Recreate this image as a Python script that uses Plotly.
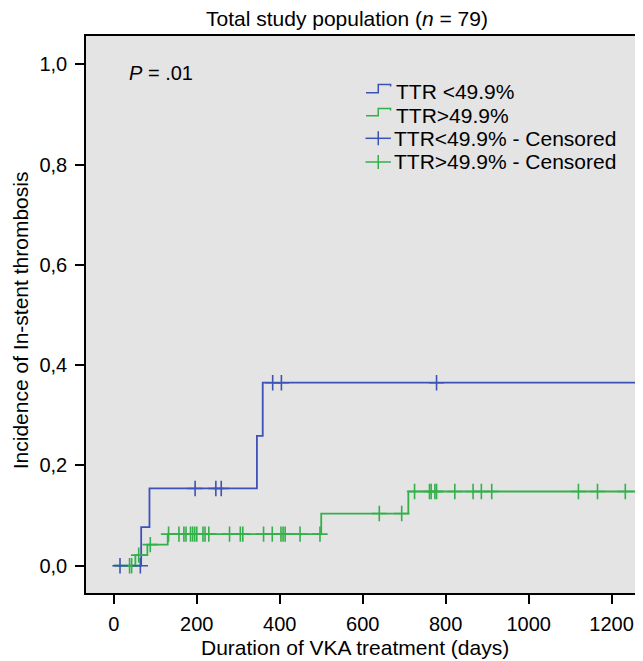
import plotly.graph_objects as go

# ---- data ----
blue_step_days = [0, 66, 86, 345, 359]
blue_step_inc = [0.0, 0.077, 0.154, 0.259, 0.365]
blue_censor_days = [15, 64, 196, 246, 259, 383, 404, 778]
blue_censor_inc = [0.0, 0.0, 0.154, 0.154, 0.154, 0.365, 0.365, 0.365]

green_step_days = [0, 52, 81, 130, 500, 710]
green_step_inc = [0.0, 0.021, 0.042, 0.063, 0.104, 0.148]
green_censor_days = [38, 43, 60, 88,
                     132, 157, 169, 174, 185, 190, 195, 200, 215, 220, 229,
                     279, 305, 311, 361, 382, 403, 408, 413, 449, 497,
                     640, 694,
                     725, 761, 765, 774, 778, 822, 866, 886, 911, 1120, 1166, 1233]
green_censor_inc = [0.0, 0.0, 0.021, 0.042] + [0.063] * 21 + [0.104] * 2 + [0.148] * 12

follow_up_end = 1300

x_ticks = [0, 200, 400, 600, 800, 1000, 1200]
y_ticks = [0.0, 0.2, 0.4, 0.6, 0.8, 1.0]
y_tick_labels = ["0,0", "0,2", "0,4", "0,6", "0,8", "1,0"]

legend_labels = ["TTR <49.9%", "TTR>49.9%", "TTR<49.9% - Censored", "TTR>49.9% - Censored"]

BLUE = "#3d52b6"
GREEN = "#33b04a"
FONT = "Liberation Sans, Arial, sans-serif"

# page body has an 8px margin; the figure is sized/placed to compensate
OFF = 8
W, H = 643 - OFF, 661 - OFF
L, R, T, B = 86 - OFF, 2, 36 - OFF, 68
PW, PH = W - L - R, H - T - B


def px(x):
    return (x - OFF - L) / PW


def py(y):
    return (H - B - (y - OFF)) / PH


fig = go.Figure()

fig.add_trace(go.Scatter(
    x=blue_step_days + [follow_up_end], y=blue_step_inc + [blue_step_inc[-1]],
    mode="lines", line=dict(color=BLUE, width=1.8, shape="hv"), showlegend=False))
fig.add_trace(go.Scatter(
    x=green_step_days + [follow_up_end], y=green_step_inc + [green_step_inc[-1]],
    mode="lines", line=dict(color=GREEN, width=1.8, shape="hv"), showlegend=False))
fig.add_trace(go.Scatter(
    x=green_censor_days, y=green_censor_inc, mode="markers",
    marker=dict(symbol="cross-thin", size=11, line=dict(color=GREEN, width=1.6)),
    showlegend=False))
fig.add_trace(go.Scatter(
    x=blue_censor_days, y=blue_censor_inc, mode="markers",
    marker=dict(symbol="cross-thin", size=11, line=dict(color=BLUE, width=1.6)),
    showlegend=False))

shapes = []
# custom legend symbols (pixel positions converted to paper)
for (yl, yh, col) in [(92.7, 84.5, BLUE), (115.7, 108.5, GREEN)]:
    path = "M {:.4f},{:.4f} L {:.4f},{:.4f} L {:.4f},{:.4f} L {:.4f},{:.4f} L {:.4f},{:.4f}".format(
        px(367), py(yl), px(379.3), py(yl), px(379.3), py(yh), px(391.7), py(yh), px(391.7), py(yh + 2))
    shapes.append(dict(type="path", xref="paper", yref="paper", path=path,
                       line=dict(color=col, width=1.5)))
for (yc, col) in [(138.3, BLUE), (162.0, GREEN)]:
    shapes.append(dict(type="line", xref="paper", yref="paper",
                       x0=px(366.5), x1=px(392), y0=py(yc), y1=py(yc),
                       line=dict(color=col, width=1.5)))
    shapes.append(dict(type="line", xref="paper", yref="paper",
                       x0=px(379.3), x1=px(379.3), y0=py(yc - 7), y1=py(yc + 7),
                       line=dict(color=col, width=1.5)))

annotations = []
legend_pos = [(395, 91.5), (395, 115.5), (393, 138.5), (393, 161.5)]
for lab, (lx, ly) in zip(legend_labels, legend_pos):
    annotations.append(dict(text=lab, x=px(lx), y=py(ly), xref="paper", yref="paper",
                            xanchor="left", yanchor="middle", showarrow=False,
                            font=dict(family=FONT, size=21, color="black")))

annotations.append(dict(text="<i>P</i> = .01", x=px(127.5), y=py(72.5), xref="paper", yref="paper",
                        xanchor="left", yanchor="middle", showarrow=False,
                        font=dict(family=FONT, size=20, color="black")))
annotations.append(dict(text="Total study population (<i>n</i> = 79)", x=px(348), y=py(18),
                        xref="paper", yref="paper", xanchor="center", yanchor="middle",
                        showarrow=False, font=dict(family=FONT, size=21, color="black")))
annotations.append(dict(text="Duration of VKA treatment (days)", x=px(356), y=py(647),
                        xref="paper", yref="paper", xanchor="center", yanchor="middle",
                        showarrow=False, font=dict(family=FONT, size=21, color="black")))
annotations.append(dict(text="Incidence of In-stent thrombosis", x=px(20), y=py(320),
                        xref="paper", yref="paper", xanchor="center", yanchor="middle",
                        textangle=-90, showarrow=False, borderpad=0,
                        font=dict(family=FONT, size=21, color="black")))

fig.update_layout(
    width=W, height=H,
    margin=dict(l=L, r=R, t=T, b=B, pad=0),
    paper_bgcolor="white", plot_bgcolor="#e4e4e4",
    shapes=shapes, annotations=annotations, showlegend=False,
    font=dict(family=FONT, size=20, color="black"),
)
fig.update_xaxes(range=[-67, 1266], tickvals=x_ticks, ticks="outside", ticklen=9,
                 tickwidth=1.5, tickcolor="black", showgrid=False, zeroline=False,
                 showline=True, mirror=True, linecolor="black", linewidth=1.5,
                 tickfont=dict(family=FONT, size=20), ticklabelstandoff=3)
fig.update_yaxes(range=[-0.0545, 1.0565], tickvals=y_ticks, ticktext=y_tick_labels,
                 ticks="outside", ticklen=9, tickwidth=1.5, tickcolor="black",
                 showgrid=False, zeroline=False, showline=True, mirror=True,
                 linecolor="black", linewidth=1.5,
                 tickfont=dict(family=FONT, size=20), ticklabelstandoff=4)

fig.write_html("out.html")
